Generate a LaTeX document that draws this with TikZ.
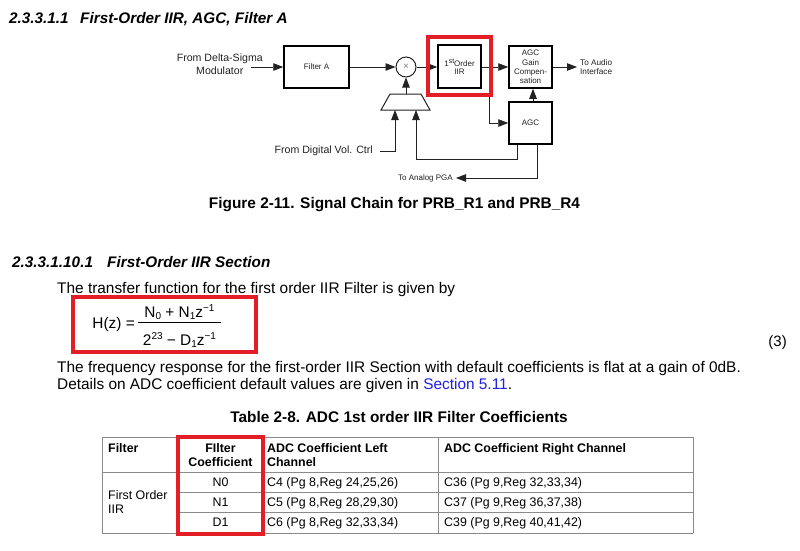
\documentclass[tikz,border=0pt]{standalone}
\usepackage{fontspec}
\setmainfont{Liberation Sans}
\usetikzlibrary{arrows.meta}
\definecolor{redbox}{HTML}{E41E26}
\definecolor{linkblue}{HTML}{1F1FE6}
\definecolor{rulegray}{HTML}{8A8A8A}
\definecolor{ink}{HTML}{222222}
\newcommand\myfs[1]{\fontsize{#1}{#1}\selectfont}
\newcommand\mysub[1]{\raisebox{-2.5pt}{\myfs{10}#1}}
\newcommand\mysup[1]{\raisebox{5.5pt}{\myfs{10}#1}}
\begin{document}
\begin{tikzpicture}[x=1pt,y=-1pt,
  blk/.style={draw=black, line width=1.5pt, inner sep=0, align=center, text=ink, font=\myfs{8}},
  conn/.style={draw=ink, line width=0.9pt, -{Triangle[length=10pt,width=7.5pt]}},
  lbl/.style={inner sep=0, text=ink},
  txt/.style={inner sep=0, anchor=base west, font=\myfs{15.4}},
  headtxt/.style={inner sep=0, anchor=base west, font=\myfs{15.3}\bfseries\itshape},
  captext/.style={inner sep=0, anchor=base, font=\myfs{15.4}\bfseries},
  tb/.style={inner sep=0, anchor=base west, font=\myfs{12.4}},
  tbc/.style={inner sep=0, anchor=base, font=\myfs{12.4}},
  redframe/.style={draw=redbox, line width=3.2pt},
  tabrule/.style={draw=rulegray, line width=0.9pt}]
\useasboundingbox (0,0) rectangle (800,550);
\fill[white] (0,0) rectangle (800,550);

% ---------- heading 1
\node[headtxt] (h1n) at (9,23) {2.3.3.1.1};
\node[headtxt] (h1t) at (80,23) {First-Order IIR, AGC, Filter A};

% ---------- block diagram
\node[blk, minimum width=65, minimum height=42] (fa) at (316.5,67) {Filter A};
\node[circle, draw=ink, line width=1pt, minimum size=20, inner sep=0] (mul) at (406,67) {\myfs{10}\textcolor{gray}{×}};
\node[blk, minimum width=43, minimum height=43] (iir) at (459.5,66.5) {1\raisebox{3pt}{\myfs{7}st}Order\\IIR};
\node[blk, minimum width=43, minimum height=42, font=\fontsize{8}{9.4}\selectfont] (gc) at (530.5,67) {AGC\\Gain\\Compen-\\sation};
\node[blk, minimum width=43, minimum height=42] (agc) at (530.5,123) {AGC};

\draw[draw=ink, line width=1pt] (381,110) -- (390,94) -- (421,94) -- (430,110) -- cycle;
\coordinate (trtop) at (406,94);
\coordinate (trin1) at (395,110);
\coordinate (trin2) at (416,110);

\node[lbl, align=center, anchor=east, font=\fontsize{10.6}{12.5}\selectfont] (dsm) at (263,64) {From Delta-Sigma\\Modulator};
\coordinate (dsmout) at (251,67);
\draw[conn] (dsmout) -- (fa.west);
\draw[conn] (fa.east) -- (mul.west);
\draw[conn] (mul.east) -- (mul.east -| iir.west);
\coordinate (br) at (489,67);
\draw[conn] (iir.east |- gc.west) -- (gc.west);
\draw[conn] (br) |- (agc.west);
\draw[conn] ([xshift=2.5pt]agc.north) -- ([xshift=2.5pt]gc.south);
\coordinate (audio) at (577,67);
\draw[conn] (gc.east) -- (audio);
\node[lbl, anchor=west, align=left, font=\fontsize{8.2}{9.5}\selectfont] (audiolbl) at (580,67) {To Audio\\Interface};
\draw[conn] (trtop) -- (mul.south);
\node[lbl, anchor=east, font=\myfs{10.6}] (dvc) at (373,151) {From Digital Vol. Ctrl};
\coordinate (dvcout) at (380,151);
\draw[conn] (dvcout) -| (trin1);
\draw[conn] ([xshift=-13.5pt]agc.south) -- ++(0,15) -| (trin2);
\node[lbl, anchor=east, font=\myfs{8}] (pga) at (453,178) {To Analog PGA};
\coordinate (pgain) at (456,178);
\draw[conn] ([xshift=6.5pt]agc.south) |- (pgain);

\draw[redframe] (428,37) rectangle (491,95);

\node[captext] (figcap) at (394.5,208.5) {Figure 2-11. Signal Chain for PRB\_R1 and PRB\_R4};

% ---------- heading 2 and text
\node[headtxt] (h2n) at (12,267) {2.3.3.1.10.1};
\node[headtxt] (h2t) at (107,267) {First-Order IIR Section};
\node[txt] (p1) at (57,293) {The transfer function for the first order IIR Filter is given by};

\node[inner sep=0, anchor=base east, font=\myfs{15.4}] (hz) at (135,328) {H(z) =};
\node[inner sep=0, anchor=base, font=\myfs{15.4}] (num) at (179.5,317) {N\mysub{0} + N\mysub{1}z\mysup{−1}};
\node[inner sep=0, anchor=base, font=\myfs{15.4}] (den) at (179.5,345) {2\mysup{23} − D\mysub{1}z\mysup{−1}};
\draw[black, line width=0.9pt] (138,322.3) -- (221,322.3);
\node[inner sep=0, anchor=base east, font=\myfs{15}] (eqn) at (787,346) {(3)};
\draw[redframe] (73,297) rectangle (256,352);

\node[txt] (p2) at (57,372) {The frequency response for the first-order IIR Section with default coefficients is flat at a gain of 0dB.};
\node[txt] (p3) at (57,389) {Details on ADC coefficient default values are given in \textcolor{linkblue}{Section 5.11}.};

% ---------- table
\node[captext] (tabcap) at (399,422.5) {Table 2-8. ADC 1st order IIR Filter Coefficients};

\draw[tabrule] (102,437) -- (693,437);
\draw[tabrule] (102,472) -- (693,472);
\draw[tabrule] (178,492) -- (693,492);
\draw[tabrule] (178,512) -- (693,512);
\draw[tabrule] (102,533) -- (693,533);
\foreach \xx in {102,178,263,438,693} \draw[tabrule] (\xx,437) -- (\xx,533);

\node[tb, font=\myfs{12.4}\bfseries] (th1) at (108,452) {Filter};
\node[tbc, font=\myfs{12.4}\bfseries] (th2a) at (220.5,452) {FIlter};
\node[tbc, font=\myfs{12.4}\bfseries] (th2b) at (220.5,466) {Coefficient};
\node[tb, font=\myfs{12.4}\bfseries] (th3a) at (267,452) {ADC Coefficient Left};
\node[tb, font=\myfs{12.4}\bfseries] (th3b) at (267,466) {Channel};
\node[tb, font=\myfs{12.4}\bfseries] (th4) at (444,452) {ADC Coefficient Right Channel};

\node[tb] (fo1) at (108,499) {First Order};
\node[tb] (fo2) at (108,513) {IIR};

\node[tbc] (n0) at (220.5,486.5) {N0};
\node[tbc] (n1) at (220.5,506.5) {N1};
\node[tbc] (d1) at (220.5,526.5) {D1};
\node[tb] (l1) at (267,486.5) {C4 (Pg 8,Reg 24,25,26)};
\node[tb] (l2) at (267,506.5) {C5 (Pg 8,Reg 28,29,30)};
\node[tb] (l3) at (267,526.5) {C6 (Pg 8,Reg 32,33,34)};
\node[tb] (r1) at (444,486.5) {C36 (Pg 9,Reg 32,33,34)};
\node[tb] (r2) at (444,506.5) {C37 (Pg 9,Reg 36,37,38)};
\node[tb] (r3) at (444,526.5) {C39 (Pg 9,Reg 40,41,42)};

\draw[redframe] (178,437) rectangle (263,534);
\end{tikzpicture}
\end{document}
